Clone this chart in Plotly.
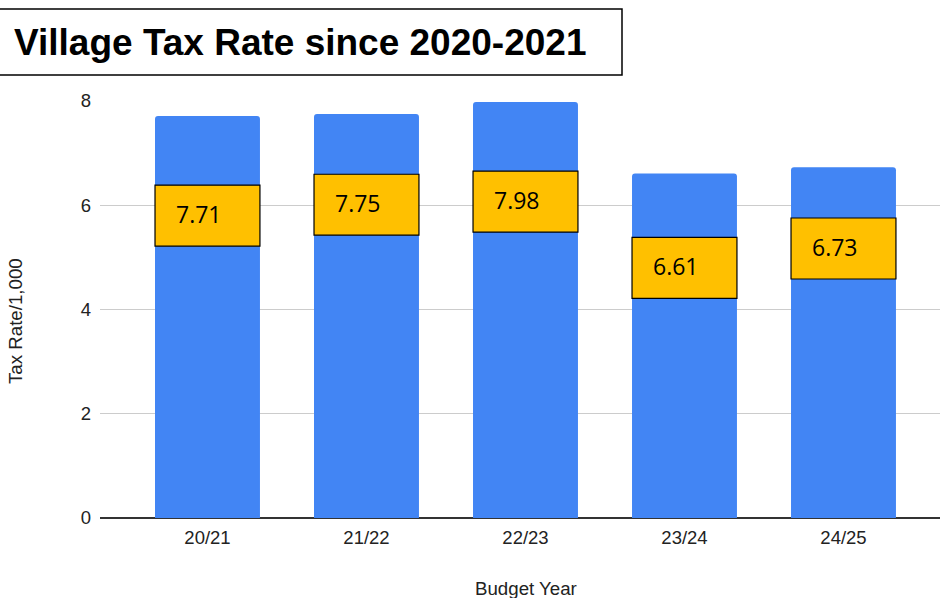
import plotly.graph_objects as go

# ---- data ----
years = ["20/21", "21/22", "22/23", "23/24", "24/25"]
tax_rates = [7.71, 7.75, 7.98, 6.61, 6.73]
label_texts = ["7.71", "7.75", "7.98", "6.61", "6.73"]

# ---- layout config (label box vertical centres, in axis units) ----
label_box_centers = [5.80, 6.01, 6.07, 4.80, 5.17]
box_half_h = 0.585
bar_w = 0.66

fig = go.Figure()
fig.add_trace(go.Bar(
    x=years, y=tax_rates,
    marker=dict(color="#4285F4", cornerradius=3, line=dict(width=0)),
    width=bar_w, hoverinfo="x+y",
))

shapes = []
annotations = []
for i, (c, t) in enumerate(zip(label_box_centers, label_texts)):
    shapes.append(dict(type="rect", xref="x", yref="y",
                       x0=i - bar_w / 2, x1=i + bar_w / 2,
                       y0=c - box_half_h, y1=c + box_half_h,
                       fillcolor="#FFC000", line=dict(color="#000000", width=1.2),
                       layer="above"))
    annotations.append(dict(x=i, y=c, xref="x", yref="y", text=t, showarrow=False,
                            xshift=-8, yshift=2,
                            font=dict(family="Open Sans", size=23, color="#000000")))

# title box
shapes.append(dict(type="rect", xref="paper", yref="paper",
                   x0=-0.13, x1=(622 - 100) / 840, y0=(518 - 75) / 417, y1=(518 - 9) / 417,
                   fillcolor="white", line=dict(color="#000000", width=1.5)))
annotations.append(dict(x=(12 - 100) / 840, y=(518 - 42) / 417, xref="paper", yref="paper",
                        xanchor="left", yanchor="middle", showarrow=False,
                        text="<b>Village Tax Rate since 2020-2021</b>",
                        font=dict(family="Liberation Sans, Arial", size=37, color="#000000")))
# axis titles
annotations.append(dict(x=(15 - 100) / 840, y=(518 - 321) / 417, xref="paper", yref="paper",
                        xanchor="center", yanchor="middle", showarrow=False, textangle=-90,
                        text="Tax Rate/1,000",
                        font=dict(family="Liberation Sans, Arial", size=18.7, color="#222222")))
annotations.append(dict(x=(526 - 100) / 840, y=(518 - 588) / 417, xref="paper", yref="paper",
                        xanchor="center", yanchor="middle", showarrow=False,
                        text="Budget Year",
                        font=dict(family="Liberation Sans, Arial", size=18.7, color="#222222")))

fig.update_layout(
    width=940, height=598,
    margin=dict(l=100, r=0, t=101, b=80),
    paper_bgcolor="white", plot_bgcolor="white",
    showlegend=False,
    shapes=shapes, annotations=annotations,
    font=dict(family="Liberation Sans, Arial", color="#222222"),
    xaxis=dict(type="category", range=[-0.676, 4.607], showgrid=False, showline=False,
               ticks="", tickfont=dict(size=18.5, color="#222222"), ticklabelstandoff=6),
    yaxis=dict(range=[0, 8], tickvals=[0, 2, 4, 6, 8], showgrid=True,
               gridcolor="#cccccc", gridwidth=1, zeroline=True, zerolinecolor="#333333",
               zerolinewidth=1.6, ticks="", tickfont=dict(size=18.5, color="#222222"),
               ticklabelstandoff=8),
)

fig.write_html("out.html")
